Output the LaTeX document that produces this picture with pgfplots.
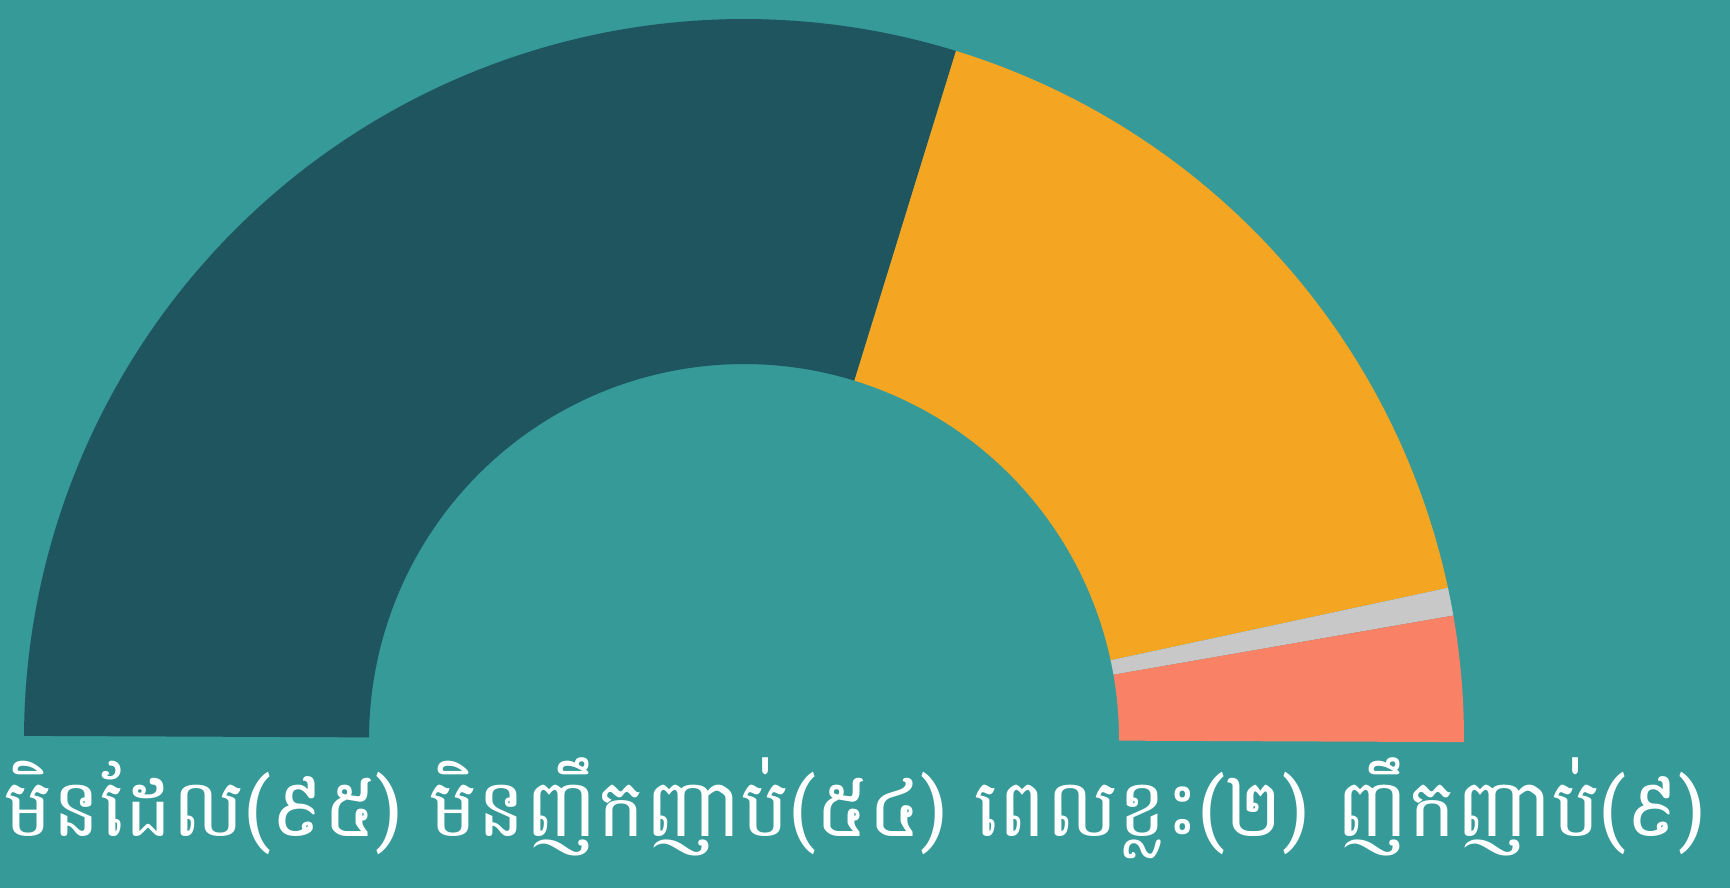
\documentclass[border=0pt]{standalone}
\usepackage{pgfplots}
\pgfplotsset{compat=1.18}
\usepackage{pgfplotstable}
\usepackage{graphicx}
\usepackage{fontspec}
\newfontfamily\khmer[Script=Khmer]{Battambang}
\definecolor{bgteal}{HTML}{359A98}
\definecolor{cdark}{HTML}{1F555E}
\definecolor{corange}{HTML}{F4A623}
\definecolor{cgray}{HTML}{C8C8C8}
\definecolor{csalmon}{HTML}{F98166}

\pgfplotstableread{
label value
never 95
rarely 54
sometimes 2
often 9
}\data

\newcommand\seg[3]{%
  \fill[#3,shift={(axis cs:744,148)}] (#1:7.2cm) arc[start angle=#1,end angle=#2,radius=7.2cm]
    -- (#2:3.75cm) arc[start angle=#2,end angle=#1,radius=3.75cm] -- cycle;}

\begin{document}%
\begin{tikzpicture}
\pgfplotstablegetelem{0}{value}\of\data \let\va\pgfplotsretval
\pgfplotstablegetelem{1}{value}\of\data \let\vb\pgfplotsretval
\pgfplotstablegetelem{2}{value}\of\data \let\vc\pgfplotsretval
\pgfplotstablegetelem{3}{value}\of\data \let\vd\pgfplotsretval
\pgfmathsetmacro\tot{\va+\vb+\vc+\vd}
\pgfmathsetmacro\aA{179.75}
\pgfmathsetmacro\aB{\aA-\va/\tot*180}
\pgfmathsetmacro\aC{\aB-\vb/\tot*180}
\pgfmathsetmacro\aD{\aC-\vc/\tot*180}
\pgfmathsetmacro\aE{\aD-\vd/\tot*180}
\begin{axis}[
  width=17.3cm, height=8.87cm, scale only axis,
  xmin=0, xmax=1730, ymin=0, ymax=887,
  hide axis, clip=false,
]
\fill[bgteal] (axis cs:-20,-20) rectangle (axis cs:1750,907);
\seg{\aA}{\aB}{cdark}
\seg{\aB}{\aC}{corange}
\seg{\aC}{\aD}{cgray}
\seg{\aD}{\aE}{csalmon}
\node[anchor=base west, inner sep=0pt, text=white] at (axis cs:4,51)
  {\resizebox{17.0cm}{!}{\khmer មិនដែល(៩៥) មិនញឹកញាប់(៥៤) ពេលខ្លះ(២) ញឹកញាប់(៩)}};
\end{axis}
\pgfresetboundingbox
\path[use as bounding box] (current axis.south west) rectangle (current axis.north east);
\end{tikzpicture}%
\end{document}
